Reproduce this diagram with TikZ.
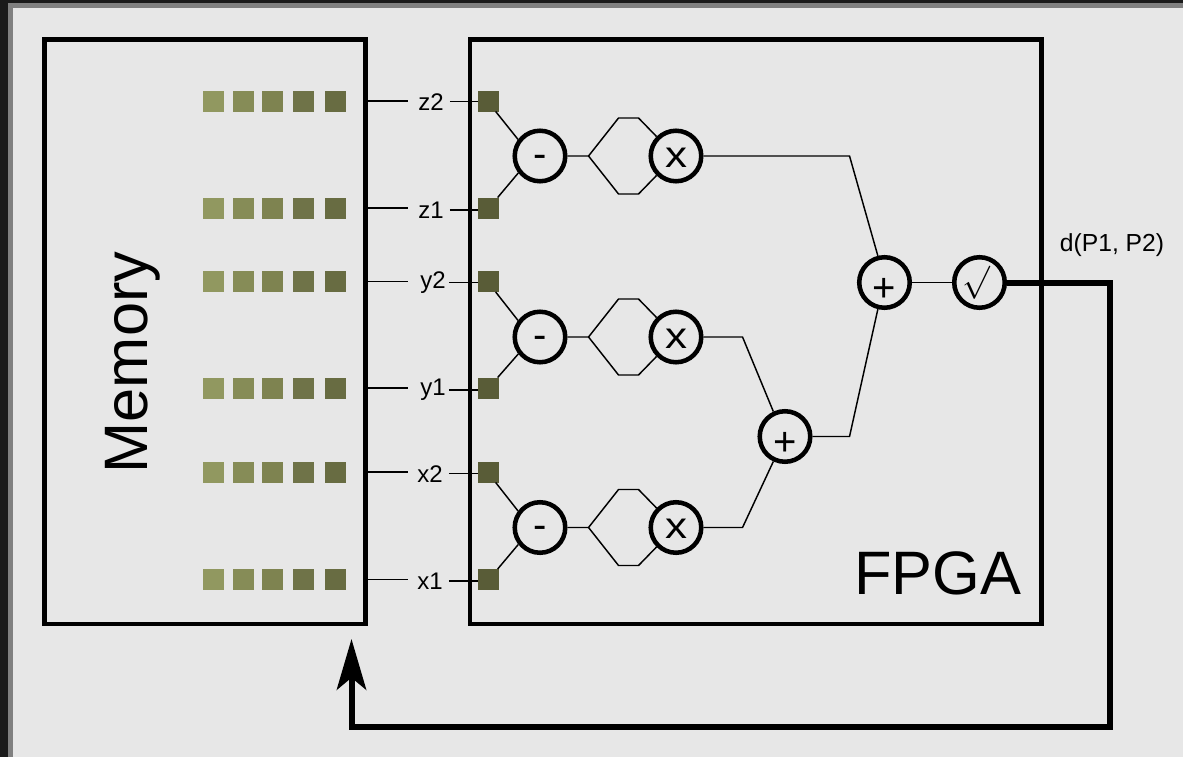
\documentclass[tikz,border=0pt]{standalone}
\usepackage{fontspec}
\setmainfont{Liberation Sans}
\usepackage{xcolor}
\usetikzlibrary{arrows.meta}
\definecolor{shellA}{HTML}{919860}
\definecolor{shellB}{HTML}{868C57}
\definecolor{shellC}{HTML}{7E8350}
\definecolor{shellD}{HTML}{6F7348}
\definecolor{shellE}{HTML}{686C42}
\definecolor{shellF}{HTML}{595C37}
\definecolor{frameA}{HTML}{1A1A1A}
\definecolor{frameB}{HTML}{808080}
\definecolor{canvas}{HTML}{E7E7E7}

\begin{document}
\begin{tikzpicture}[
  x=0.75pt, y=-0.75pt,
  panel/.style={draw, line width=3.4pt, minimum width=#1, minimum height=438.4pt},
  cell/.style={minimum size=15.75pt, inner sep=0pt, outer sep=0pt},
  op/.style={draw, circle, line width=3.4pt, minimum size=37.9pt, inner sep=0pt, font=\fontsize{30}{30}\selectfont},
  lift/.style={text height=#1, text depth=0pt},
  tag/.style={inner sep=0pt, font=\fontsize{18}{20}\selectfont},
  wire/.style={line width=1.1pt},
  bus/.style={line width=4.5pt}
]
\useasboundingbox (0,0) rectangle (1183,757);
\fill[frameA] (0,0) rectangle (1183,757);
\fill[frameB] (8,3) rectangle (1183,757);
\fill[canvas] (13,8) rectangle (1183,757);

\node[panel=240.75pt] (memory) at (205,331.75) {};
\node[panel=428.6pt] (fpga) at (755.75,331.75) {};
\node[rotate=90, font=\fontsize{46}{50}\selectfont] (memlabel) at (133,362.5) {Memory};
\node[font=\fontsize{46}{50}\selectfont] (fpgalabel) at (938,573) {FPGA};

\node[cell,fill=shellA] (z2a) at (213.5,101) {}; \node[cell,fill=shellB] (z2b) at (243.5,101) {}; \node[cell,fill=shellC] (z2c) at (272.5,101) {}; \node[cell,fill=shellD] (z2d) at (303.5,101) {}; \node[cell,fill=shellE] (z2e) at (335.5,101) {};
\node[cell,fill=shellA] (z1a) at (213.5,208) {}; \node[cell,fill=shellB] (z1b) at (243.5,208) {}; \node[cell,fill=shellC] (z1c) at (272.5,208) {}; \node[cell,fill=shellD] (z1d) at (303.5,208) {}; \node[cell,fill=shellE] (z1e) at (335.5,208) {};
\node[cell,fill=shellA] (y2a) at (213.5,281.5) {}; \node[cell,fill=shellB] (y2b) at (243.5,281.5) {}; \node[cell,fill=shellC] (y2c) at (272.5,281.5) {}; \node[cell,fill=shellD] (y2d) at (303.5,281.5) {}; \node[cell,fill=shellE] (y2e) at (335.5,281.5) {};
\node[cell,fill=shellA] (y1a) at (213.5,388) {}; \node[cell,fill=shellB] (y1b) at (243.5,388) {}; \node[cell,fill=shellC] (y1c) at (272.5,388) {}; \node[cell,fill=shellD] (y1d) at (303.5,388) {}; \node[cell,fill=shellE] (y1e) at (335.5,388) {};
\node[cell,fill=shellA] (x2a) at (213.5,472) {}; \node[cell,fill=shellB] (x2b) at (243.5,472) {}; \node[cell,fill=shellC] (x2c) at (272.5,472) {}; \node[cell,fill=shellD] (x2d) at (303.5,472) {}; \node[cell,fill=shellE] (x2e) at (335.5,472) {};
\node[cell,fill=shellA] (x1a) at (213.5,579.5) {}; \node[cell,fill=shellB] (x1b) at (243.5,579.5) {}; \node[cell,fill=shellC] (x1c) at (272.5,579.5) {}; \node[cell,fill=shellD] (x1d) at (303.5,579.5) {}; \node[cell,fill=shellE] (x1e) at (335.5,579.5) {};

\node[cell,fill=shellF] (z2f) at (488.5,101) {};
\node[cell,fill=shellF] (z1f) at (488.5,208) {};
\node[cell,fill=shellF] (y2f) at (488.5,281.5) {};
\node[cell,fill=shellF] (y1f) at (488.5,388) {};
\node[cell,fill=shellF] (x2f) at (488.5,472) {};
\node[cell,fill=shellF] (x1f) at (488.5,579.5) {};

\node[tag] (z2) at (431,101.7) {z2};
\node[tag] (z1) at (431,210) {z1};
\node[tag] (y2) at (433,282.7) {y2};
\node[tag] (y1) at (433,390.2) {y1};
\node[tag] (x2) at (430,473.7) {x2};
\node[tag] (x1) at (430,581) {x1};

\node[op,lift=16.5pt] (subz) at (540,156) {-};
\node[op,lift=16.5pt] (mulz) at (676,156) {\scalebox{1.1}[0.92]{x}};
\node[op,lift=16.5pt] (suby) at (540,337) {-};
\node[op,lift=16.5pt] (muly) at (676,337) {\scalebox{1.1}[0.92]{x}};
\node[op,lift=16.5pt] (subx) at (540,527.5) {-};
\node[op,lift=16.5pt] (mulx) at (676,527.5) {\scalebox{1.1}[0.92]{x}};
\node[op,lift=28.5pt] (addxy) at (785,436.5) {+};
\node[op,lift=28.5pt] (addz) at (884.5,282.5) {+};
\node[op] (root) at (979.5,282.5) {\fontsize{24}{24}\selectfont$\surd$\kern4.5pt};
\node[tag, font=\fontsize{18.5}{20}\selectfont] (dist) at (1112,245) {d(P1, P2)};

\coordinate (feedback) at (351.5,639);

\draw[wire] (memory.east |- z2e) -- ++(40,0); \draw[wire] ([xshift=4.5pt]z2.east) -- (z2f.west |- z2.east);
\draw[wire] (memory.east |- z1e) -- ++(40,0); \draw[wire] ([xshift=4.5pt]z1.east) -- (z1f.west |- z1.east);
\draw[wire] (memory.east |- y2e) -- ++(40,0); \draw[wire] ([xshift=2.25pt]y2.east) -- (y2f.west |- y2.east);
\draw[wire] (memory.east |- y1e) -- ++(40,0); \draw[wire] ([xshift=2.25pt]y1.east) -- (y1f.west |- y1.east);
\draw[wire] (memory.east |- x2e) -- ++(40,0); \draw[wire] ([xshift=4.5pt]x2.east) -- (x2f.west |- x2.east);
\draw[wire] (memory.east |- x1e) -- ++(40,0); \draw[wire] ([xshift=4.5pt]x1.east) -- (x1f.west |- x1.east);

\draw[wire] ([xshift=-2.5pt]z2f.south east) -- (subz.143); \draw[wire] ([xshift=-1pt]z1f.north east) -- (subz.218);
\draw[wire] ([xshift=-2.5pt]y2f.south east) -- (suby.143); \draw[wire] ([xshift=-1pt]y1f.north east) -- (suby.218);
\draw[wire] ([xshift=-2.5pt]x2f.south east) -- (subx.143); \draw[wire] ([xshift=-1pt]x1f.north east) -- (subx.218);

\draw[wire] (subz.east) -- ++(21,0) coordinate (forkz) -- ++(30,-38) -- ++(20,0) -- (mulz.135);
\draw[wire] (forkz) -- ++(30,38) -- ++(20,0) -- (mulz.225);
\draw[wire] (suby.east) -- ++(21,0) coordinate (forky) -- ++(30,-38) -- ++(20,0) -- (muly.135);
\draw[wire] (forky) -- ++(30,38) -- ++(20,0) -- (muly.225);
\draw[wire] (subx.east) -- ++(21,0) coordinate (forkx) -- ++(30,-38) -- ++(20,0) -- (mulx.135);
\draw[wire] (forkx) -- ++(30,38) -- ++(20,0) -- (mulx.225);

\draw[wire] (mulz.east) -- ++(146,0) -- (addz.104);
\draw[wire] (muly.east) -- ++(39,0) -- (addxy.115);
\draw[wire] (mulx.east) -- ++(39,0) -- (addxy.245);
\draw[wire] (addxy.east) -- ++(37,0) -- (addz.256);
\draw[wire] (addz) -- (root);

\draw[bus, -{Stealth[length=38pt, width=22pt, inset=9pt]}] (root.east) -- (1110,282.5) -- (1110,727) -- (351.5,727) -- (feedback);
\end{tikzpicture}
\end{document}
